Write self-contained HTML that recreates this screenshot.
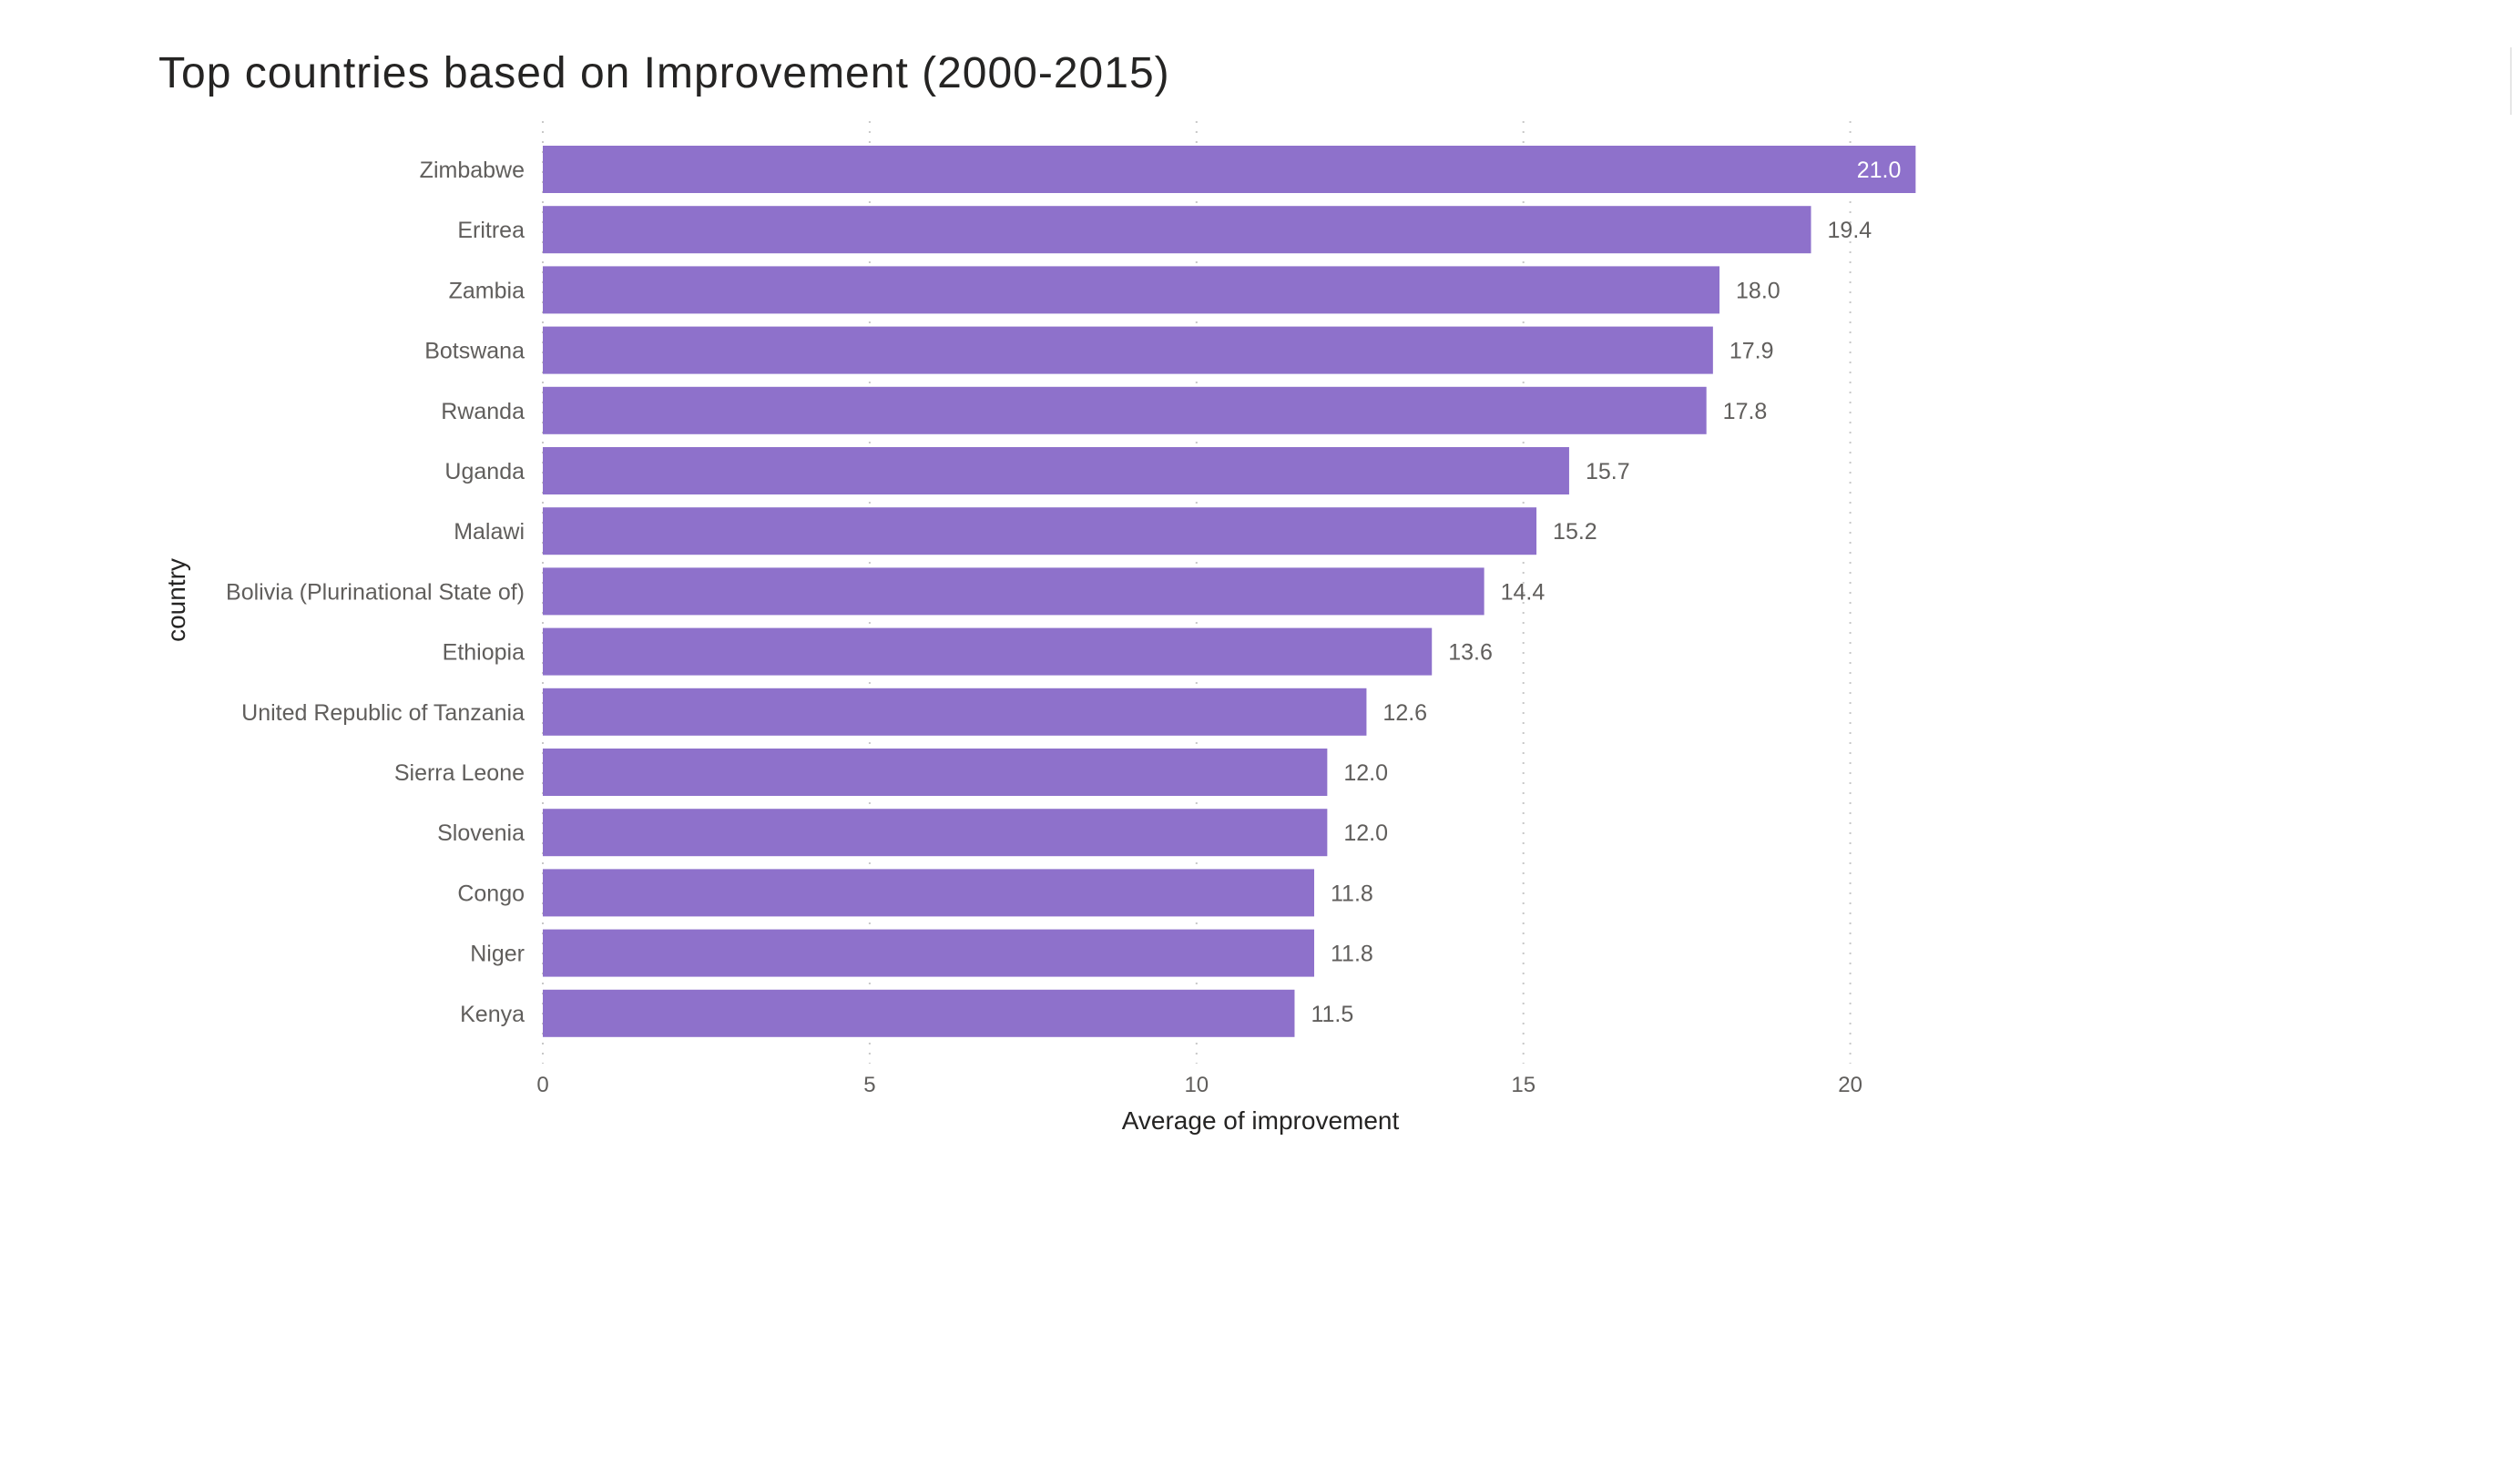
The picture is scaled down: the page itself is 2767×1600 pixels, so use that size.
<!DOCTYPE html>
<html><head><meta charset="utf-8"><style>
html,body{margin:0;padding:0;background:#fff;}
svg{display:block;}
text{font-family:"Liberation Sans",sans-serif;}
</style></head><body>
<svg id="chart" width="2767" height="1600" viewBox="0 0 2767 1600" xmlns="http://www.w3.org/2000/svg">
<line x1="2757" y1="52" x2="2757" y2="126" stroke="#e6e6e6" stroke-width="2"/>
<text x="174" y="96" font-size="48" letter-spacing="1" fill="#252423">Top countries based on Improvement (2000-2015)</text>
<g id="grid"></g>
<g id="bars"></g>
<g id="xticks"></g>
<text x="1384" y="1240" font-size="28" fill="#252423" text-anchor="middle">Average of improvement</text>
<text transform="translate(203,659) rotate(-90)" font-size="28" fill="#252423" text-anchor="middle">country</text>
</svg>
<script>
const categories = ["Zimbabwe","Eritrea","Zambia","Botswana","Rwanda","Uganda","Malawi","Bolivia (Plurinational State of)","Ethiopia","United Republic of Tanzania","Sierra Leone","Slovenia","Congo","Niger","Kenya"];
const values = [21.0,19.4,18.0,17.9,17.8,15.7,15.2,14.4,13.6,12.6,12.0,12.0,11.8,11.8,11.5];
const valueLabels = ["21.0","19.4","18.0","17.9","17.8","15.7","15.2","14.4","13.6","12.6","12.0","12.0","11.8","11.8","11.5"];
const tickValues = [0,5,10,15,20];
const tickLabels = ["0","5","10","15","20"];

const NS="http://www.w3.org/2000/svg";
const x0=596, unit=71.78;
function xScale(v){return x0+v*unit;}
const firstTop=160, step=66.2, barH=52;
function yScale(i){return firstTop+i*step;}
function mk(tag,attrs,parent,txt){const e=document.createElementNS(NS,tag);for(const k in attrs)e.setAttribute(k,attrs[k]);if(txt!==undefined)e.textContent=txt;parent.appendChild(e);return e;}

const grid=document.getElementById('grid');
const xt=document.getElementById('xticks');
tickValues.forEach((t,i)=>{
  const x=xScale(t);
  const l=mk('line',{x1:x,y1:133,x2:x,y2:1168,stroke:'#c8c8c8','stroke-width':2,'stroke-dasharray':'2 9'},grid);
  
  
  const tx=mk('text',{x:x,y:1199,'font-size':24,fill:'#605e5c','text-anchor':'middle'},xt,tickLabels[i]);
  
  
});
const bars=document.getElementById('bars');
categories.forEach((c,i)=>{
  const y=yScale(i), w=xScale(values[i])-x0;
  const r=mk('rect',{x:x0,y:y,width:w,height:barH,fill:'#8e71cb'},bars);
  
  
  const lab=mk('text',{x:576,y:y+barH/2+9,'font-size':25,fill:'#605e5c','text-anchor':'end'},bars,c);
  
  
  const inside = values[i]>=20.5;
  const vt=mk('text',{x:inside? xScale(values[i])-16 : xScale(values[i])+18, y:y+barH/2+9,'font-size':25,fill:inside?'#ffffff':'#605e5c','text-anchor':inside?'end':'start'},bars,valueLabels[i]);
  
  
});
</script>
</body></html>
